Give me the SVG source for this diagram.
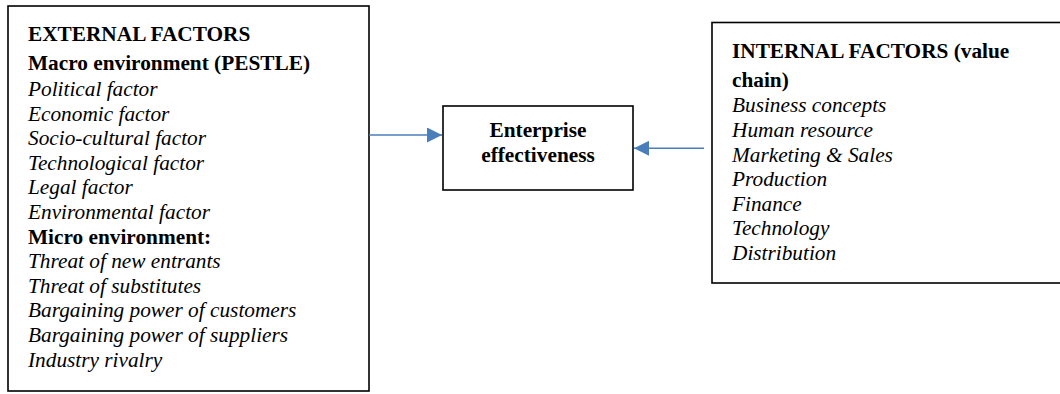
<svg xmlns="http://www.w3.org/2000/svg" width="1060" height="394" viewBox="0 0 1060 394">
<style>
.box{fill:#fff;stroke:#000;stroke-width:1.6}
text{font-family:"Liberation Serif","Times New Roman",serif;font-size:21.3px;fill:#000}
.b{font-weight:bold}
.i{font-style:italic}
.c{text-anchor:middle}
.con{stroke:#4A7EBB;stroke-width:1.6;fill:none}
</style>
<defs>
<marker id="ah" markerUnits="userSpaceOnUse" markerWidth="16" markerHeight="15" refX="15" refY="7.5" orient="auto">
<path d="M0,0 L15,7.5 L0,15 Z" fill="#4A7EBB"/>
</marker>
</defs>
<rect width="1060" height="394" fill="#fff"/>
<g id="external">
<rect class="box" x="8" y="6" width="361" height="385"/>
<text class="b" x="28" y="41">EXTERNAL FACTORS</text>
<text class="b" x="28" y="70">Macro environment (PESTLE)</text>
<text class="i" x="28" y="96">Political factor</text>
<text class="i" x="28" y="120.6">Economic factor</text>
<text class="i" x="28" y="145.2">Socio-cultural factor</text>
<text class="i" x="28" y="169.8">Technological factor</text>
<text class="i" x="28" y="194.4">Legal factor</text>
<text class="i" x="28" y="219">Environmental factor</text>
<text class="b" x="28" y="243.6">Micro environment:</text>
<text class="i" x="28" y="268.2">Threat of new entrants</text>
<text class="i" x="28" y="292.8">Threat of substitutes</text>
<text class="i" x="28" y="317.4">Bargaining power of customers</text>
<text class="i" x="28" y="342">Bargaining power of suppliers</text>
<text class="i" x="28" y="366.6">Industry rivalry</text>
</g>
<g id="enterprise">
<rect class="box" x="443" y="106" width="190" height="84"/>
<text class="b c" x="538" y="136.7">Enterprise</text>
<text class="b c" x="538" y="161.7">effectiveness</text>
</g>
<g id="internal">
<rect class="box" x="712" y="22.5" width="352" height="260.5"/>
<text class="b" x="732" y="58">INTERNAL FACTORS (value</text>
<text class="b" x="732" y="86.5">chain)</text>
<text class="i" x="732" y="112.4">Business concepts</text>
<text class="i" x="732" y="137">Human resource</text>
<text class="i" x="732" y="161.6">Marketing &amp; Sales</text>
<text class="i" x="732" y="186.2">Production</text>
<text class="i" x="732" y="210.8">Finance</text>
<text class="i" x="732" y="235.4">Technology</text>
<text class="i" x="732" y="260">Distribution</text>
</g>
<g id="connectors">
<line class="con" x1="369" y1="135" x2="442" y2="135" marker-end="url(#ah)"/>
<line class="con" x1="704" y1="148.3" x2="634" y2="148.3" marker-end="url(#ah)"/>
</g>
</svg>
